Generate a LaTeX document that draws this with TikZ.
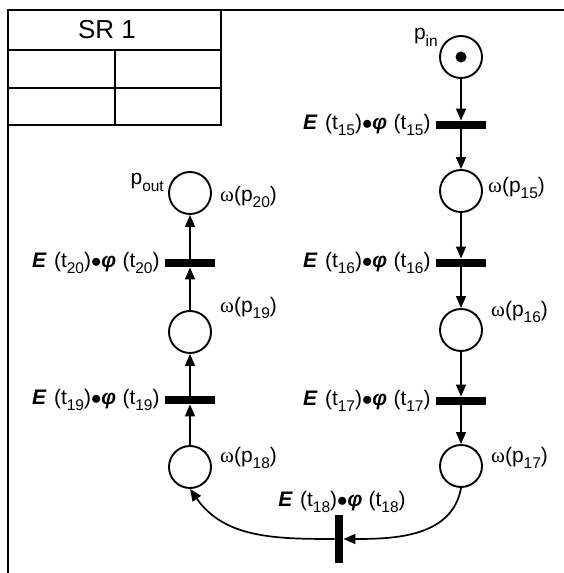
\documentclass[tikz,border=0pt]{standalone}
\usepackage{fontspec}
\setmainfont{Liberation Sans}
\newfontfamily\omegafont{Liberation Serif}
\usepackage{tikz}
\usetikzlibrary{arrows.meta, positioning}
\tikzset{
    place/.style={circle, draw, line width=1.9pt, minimum size=42pt, inner sep=0pt},
    token/.style={circle, fill=black, minimum size=11pt, inner sep=0pt},
    trans/.style={rectangle, fill=black, minimum width=50pt, minimum height=8.5pt, inner sep=0pt},
    vtrans/.style={rectangle, fill=black, minimum width=8.5pt, minimum height=48pt, inner sep=0pt},
    lbl/.style={font=\fontsize{21}{24}\selectfont, inner sep=1pt},
    arc/.style={line width=1.7pt, -{Triangle[length=12pt,width=10pt]}}
}
\newcommand{\lsub}[1]{\raisebox{-0.3em}{\fontsize{15.5}{16}\selectfont #1}}
\newcommand{\trlabel}[1]{\textbf{\textit{E}}\hspace{0.35em}(t\lsub{#1})$\bullet$\textbf{\textit{φ}}\hspace{0.3em}(t\lsub{#1})}
\newcommand{\omlabel}[1]{{\omegafont ω}(p\lsub{#1})}

\begin{document}
\begin{tikzpicture}[x=1pt, y=1pt]
    \useasboundingbox (0,0) rectangle (564,573);

    % frame and SR table
    \draw[line width=1.4pt] (564,563) -- (8,563) -- (8,0);
    \draw[line width=1.4pt] (8,448) rectangle (221,563);
    \draw[line width=1.4pt] (8,523) -- (221,523);
    \draw[line width=1.4pt] (8,485) -- (221,485);
    \draw[line width=1.4pt] (115,523) -- (115,448);
    \node[font=\fontsize{26}{30}\selectfont] (srtitle) at (107,543) {SR 1};

    % right branch
    \node[place] (pin) at (461,516) {};
    \node[token] (pintoken) at (pin) {};
    \node[trans] (t15) at (461,448) {};
    \node[place] (p15) at (461,382) {};
    \node[trans] (t16) at (461,310) {};
    \node[place] (p16) at (461,243) {};
    \node[trans] (t17) at (461,172) {};
    \node[place] (p17) at (461,107) {};

    % left branch
    \node[place] (p18) at (190,106) {};
    \node[trans] (t19) at (190,173) {};
    \node[place] (p19) at (190,241) {};
    \node[trans] (t20) at (190,310) {};
    \node[place] (p20) at (190,380) {};

    % bottom transition
    \node[vtrans] (t18) at (339,34) {};

    % place labels
    \node[lbl, anchor=base east] (pinlbl) at (439,533) {p\lsub{in}};
    \node[lbl, anchor=base east] (poutlbl) at (165,388) {p\lsub{out}};
    \node[lbl, anchor=west] (w15) at (487,385) {\omlabel{15}};
    \node[lbl, anchor=west] (w16) at (490,261) {\omlabel{16}};
    \node[lbl, anchor=west] (w17) at (490,115) {\omlabel{17}};
    \node[lbl, anchor=west] (w18) at (219,115) {\omlabel{18}};
    \node[lbl, anchor=west] (w19) at (219,265) {\omlabel{19}};
    \node[lbl, anchor=west] (w20) at (219,376) {\omlabel{20}};

    % transition labels
    \node[lbl, left=4pt of t15] (e15) {\trlabel{15}};
    \node[lbl, left=4pt of t16] (e16) {\trlabel{16}};
    \node[lbl, left=4pt of t17] (e17) {\trlabel{17}};
    \node[lbl, left=4pt of t19] (e19) {\trlabel{19}};
    \node[lbl, left=4pt of t20] (e20) {\trlabel{20}};
    \node[lbl, above=1pt of t18, xshift=3pt] (e18) {\trlabel{18}};

    % arcs
    \draw[arc] (pin) -- (t15);
    \draw[arc] (t15) -- (p15);
    \draw[arc] (p15) -- (t16);
    \draw[arc] (t16) -- (p16);
    \draw[arc] (p16) -- (t17);
    \draw[arc] (t17) -- (p17);
    \draw[arc] (p17.south) to[out=-100, in=0] (t18.east);
    \draw[arc] (t18.west) to[out=180, in=-55] (p18.south);
    \draw[arc] (p18) -- (t19);
    \draw[arc] (t19) -- (p19);
    \draw[arc] (p19) -- (t20);
    \draw[arc] (t20) -- (p20);
\end{tikzpicture}
\end{document}
